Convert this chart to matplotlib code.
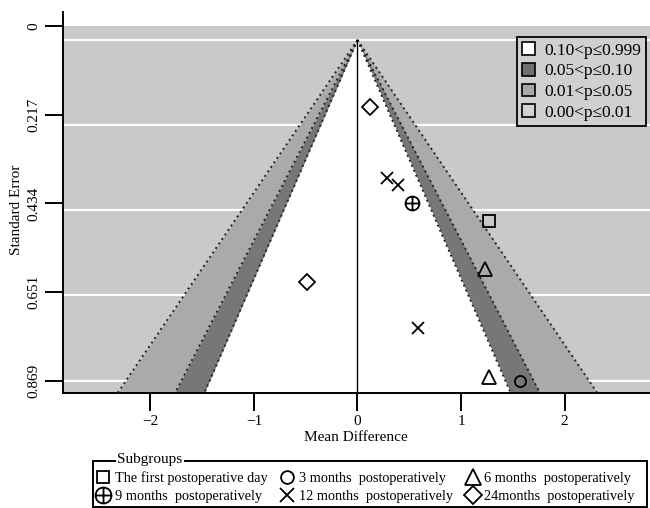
"""
contour-enhanced funnel plot, subgroups by postoperative time
"""
import numpy as np
import matplotlib.pyplot as plt
from matplotlib.path import Path
from matplotlib.lines import Line2D
from matplotlib.patches import Patch, Rectangle

plt.rcParams['font.family'] = ['Liberation Serif', 'DejaVu Serif']

# mean difference / standard error of each study, per subgroup
md_day1, se_day1 = [1.27], [0.461]
md_m3, se_m3 = [1.57], [0.869]
md_m6, se_m6 = [1.23, 1.27], [0.584, 0.859]
md_m9, se_m9 = [0.527], [0.415]
md_m12, se_m12 = [0.285, 0.39, 0.585], [0.352, 0.370, 0.734]
md_m24, se_m24 = [0.12, -0.49], [0.171, 0.617]

group_labels = ["The first postoperative day", "3 months  postoperatively",
                "6 months  postoperatively", "9 months  postoperatively",
                "12 months  postoperatively", "24months  postoperatively"]
se_grid = [0, 0.217, 0.434, 0.651, 0.869]
ytick_labels = ["0", "0.217", "0.434", "0.651", "0.869"]
xticks = [-2, -1, 0, 1, 2]
contour_labels = ["0.10<p\u22640.999", "0.05<p\u22640.10",
                  "0.01<p\u22640.05", "0.00<p\u22640.01"]
z_levels = [1.645, 1.96, 2.576]

bg = '#c9c9c9'
c_dark = '#777777'
c_mid = '#aaaaaa'

W, H = 650, 508
fig = plt.figure(figsize=(6.5, 5.08), dpi=100)
ax = fig.add_axes([62.5/W, 1-393/H, 1-62.5/W, 367/H])
ax.set_facecolor(bg)

ytop, ybot = -0.0357, 0.8996
ax.set_xlim(-2.85, 2.826)
ax.set_ylim(ybot, ytop)

for g in se_grid:
    ax.axhline(g, color='white', lw=1.6, zorder=1)

yy = np.array([0, 1.0])
ax.fill_betweenx(yy, -z_levels[2]*yy, z_levels[2]*yy, color=c_mid, lw=0, zorder=2)
ax.fill_betweenx(yy, -z_levels[1]*yy, z_levels[1]*yy, color=c_dark, lw=0, zorder=2)
ax.fill_betweenx(yy, -z_levels[0]*yy, z_levels[0]*yy, color='white', lw=0, zorder=2)
for z in z_levels:
    ax.plot(-z*yy, yy, color='#222222', ls=(0, (1, 1.8)), lw=1.4, zorder=3)
    ax.plot(z*yy, yy, color='#222222', ls=(0, (1, 1.8)), lw=1.4, zorder=3)
ax.plot([0, 0], [0, 1.0], color='black', lw=1.0, zorder=3)

circ = Path.unit_circle()
plus = Path([(-1, 0), (1, 0), (0, -1), (0, 1)],
            [Path.MOVETO, Path.LINETO, Path.MOVETO, Path.LINETO])
oplus = Path.make_compound_path(circ, plus)

kw = dict(ls='none', mfc='none', mec='black', mew=1.3, zorder=4)
h1, = ax.plot(md_day1, se_day1, marker='s', ms=8, **kw)
h2, = ax.plot(md_m3, se_m3, marker='o', ms=8, **kw)
h3, = ax.plot(md_m6, se_m6, marker='^', ms=10, **kw)
h4, = ax.plot(md_m9, se_m9, marker=oplus, ms=10, **kw)
h5, = ax.plot(md_m12, se_m12, marker='x', ms=9, **kw)
h6, = ax.plot(md_m24, se_m24, marker='D', ms=8, **kw)

ax.spines['top'].set_visible(False)
ax.spines['right'].set_visible(False)
ax.spines['left'].set_visible(False)
ax.spines['bottom'].set_linewidth(1.4)
ax.plot([0, 0], [0, 1 + 14/367], transform=ax.transAxes, color='black',
        lw=1.4, clip_on=False, zorder=5)

ax.set_yticks(np.linspace(ytop, 0.869, 5))
ax.set_yticklabels(ytick_labels, rotation=90, va='center')
ax.set_xticks(xticks)
ax.set_xticklabels(["\u22122", "\u22121", "0", "1", "2"])
ax.tick_params(axis='both', length=13, width=1.4, labelsize=11, pad=3)
ax.set_xlabel("Mean Difference", fontsize=11, labelpad=2)
ax.set_ylabel("Standard Error", fontsize=11, labelpad=3)

# contour legend
patches = [Patch(facecolor=c, edgecolor='black', lw=1.2)
           for c in ['white', '#6f6f6f', '#a9a9a9', '#d2d2d2']]
leg = ax.legend(patches, contour_labels, loc='upper right',
                bbox_to_anchor=(646/W, 1-37/H), bbox_transform=fig.transFigure,
                fontsize=12.5, fancybox=False, edgecolor='black', facecolor='#d0d0d0',
                framealpha=1, handlelength=0.75, handleheight=0.75,
                handletextpad=0.5, labelspacing=0.25, borderpad=0.3, borderaxespad=0)
leg.get_frame().set_linewidth(1.3)

# subgroup legend
fig.patches.append(Rectangle((93/W, 1-507/H), (647-93)/W, (507-461)/H,
                             transform=fig.transFigure, fill=False,
                             edgecolor='black', lw=1.4))
fig.text(117/W, 1-459/H, "Subgroups", fontsize=11, va='center', ha='left',
         bbox=dict(facecolor='white', edgecolor='none', pad=1))
fig.legend([h1, h4, h2, h5, h3, h6],
           [group_labels[i] for i in [0, 3, 1, 4, 2, 5]],
           ncol=3, loc='upper left', bbox_to_anchor=(96/W, 1-471/H),
           frameon=False, fontsize=10.3, handletextpad=0.3, columnspacing=0.9,
           labelspacing=0.35, handlelength=1.0, borderpad=0, borderaxespad=0,
           markerscale=1.15)

plt.savefig("out.png", dpi=100)
